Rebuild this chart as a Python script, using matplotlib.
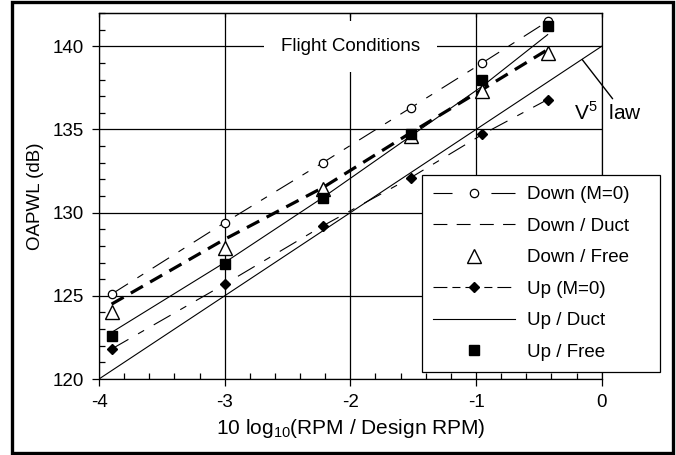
import matplotlib
matplotlib.use("Agg")
import matplotlib.pyplot as plt
from matplotlib.lines import Line2D
from matplotlib.patches import Rectangle
from matplotlib.ticker import MultipleLocator, NullLocator

plt.rcParams['font.family'] = ['Liberation Sans', 'DejaVu Sans']
plt.rcParams['mathtext.fontset'] = 'custom'
plt.rcParams['mathtext.rm'] = 'Liberation Sans'
plt.rcParams['axes.unicode_minus'] = False
plt.rcParams['lines.scale_dashes'] = False

# ---- data ----
rpm_x = [-3.9, -3.0, -2.22, -1.52, -0.95, -0.43]
down_m0 = [125.1, 129.4, 133.0, 136.3, 139.0, 141.5]
down_duct = [124.5, 128.4, 131.5, 134.8, 137.4, 139.8]
down_free = [124.0, 127.9, 131.4, 134.6, 137.3, 139.6]
up_m0 = [121.8, 125.7, 129.2, 132.1, 134.7, 136.8]
up_duct = [122.8, 127.0, 130.9, 134.6, 137.6, 140.7]
up_free = [122.6, 126.9, 130.9, 134.7, 138.0, 141.2]
v5_x = [-4.0, 0.0]
v5_y = [120.0, 140.0]
labels = ["Down (M=0)", "Down / Duct", "Down / Free", "Up (M=0)", "Up / Duct", "Up / Free"]
x_ticks = [-4, -3, -2, -1, 0]

FS = 13.5
fig = plt.figure(figsize=(6.76, 4.55), dpi=100)
ax = fig.add_axes([99/676, 1-379/455, (601.7-99)/676, (379-13)/455])

lw = 0.8
ax.plot(v5_x, v5_y, color='black', lw=lw, zorder=3)
l_up_duct, = ax.plot(rpm_x, up_duct, color='black', lw=lw, zorder=3)
l_down_duct, = ax.plot(rpm_x, down_duct, color='black', lw=2.3,
                       dashes=(10, 6), zorder=3)
l_down_m0, = ax.plot(rpm_x, down_m0, color='black', lw=lw, dashes=(14, 8, 5, 8),
                     marker='o', ms=6, mfc='white', mec='black', mew=0.9, zorder=4)
l_up_m0, = ax.plot(rpm_x, up_m0, color='black', lw=lw, dashes=(14, 8, 5, 8),
                   marker='D', ms=5, mfc='black', mec='black', zorder=4)
l_down_free, = ax.plot(rpm_x, down_free, ls='none', marker='^', ms=9.5,
                       mfc='white', mec='black', mew=1.0, zorder=5)
l_up_free, = ax.plot(rpm_x, up_free, ls='none', marker='s', ms=7,
                     mfc='black', mec='black', zorder=6)

ax.set_xlim(-4, 0)
ax.set_ylim(120, 142)
ax.xaxis.set_major_locator(MultipleLocator(1))
ax.xaxis.set_minor_locator(MultipleLocator(0.2))
ax.yaxis.set_major_locator(MultipleLocator(5))
ax.yaxis.set_minor_locator(MultipleLocator(1))
ax.grid(True, which='major', color='black', lw=0.9, zorder=1)
ax.set_axisbelow(True)
ax.tick_params(which='major', direction='out', length=5, width=0.9, labelsize=FS, pad=6)
ax.tick_params(which='minor', direction='in', length=4, width=0.9)
for s in ax.spines.values():
    s.set_linewidth(0.9)

sec = ax.secondary_xaxis('top')
sec.set_xticks(x_ticks)
sec.xaxis.set_minor_locator(NullLocator())
sec.tick_params(direction='in', length=3, width=0.9, labeltop=False)
sec.spines['top'].set_linewidth(0.9)

ax.set_xlabel("10 log$_{\\mathregular{10}}$(RPM / Design RPM)", fontsize=15, labelpad=4)
ax.set_ylabel("OAPWL (dB)", fontsize=FS, labelpad=6)

ax.text(-2.0, 140.0, "Flight Conditions", fontsize=FS, ha='center', va='center',
        bbox=dict(boxstyle='square,pad=0.9', fc='white', ec='none'), zorder=2)

ax.annotate("V$^{\\mathregular{5}}$  law", xy=(-0.155, 139.2), xytext=(0.05, 136.0),
            textcoords='data', ha='center', va='center', fontsize=15,
            annotation_clip=False,
            arrowprops=dict(arrowstyle='-', color='black', lw=1.0, shrinkA=0, shrinkB=0,
                            relpos=(0.6, 1.0)))

handles = [
    Line2D([], [], color='black', lw=lw, dashes=(13.7, 28, 18, 7), marker='o', ms=6,
           mfc='white', mec='black', mew=0.9),
    Line2D([], [], color='black', lw=lw, dashes=(10, 6.7)),
    Line2D([], [], ls='none', marker='^', ms=9.5, mfc='white', mec='black', mew=1.0),
    Line2D([], [], color='black', lw=lw, dashes=(10, 3.6, 5.8, 3.6), marker='D', ms=5,
           mfc='black', mec='black'),
    Line2D([], [], color='black', lw=lw),
    Line2D([], [], ls='none', marker='s', ms=7, mfc='black', mec='black'),
]
leg = ax.legend(handles, labels, loc='upper left', bbox_to_anchor=(0.6425, 0.0, 0.4734, 0.557),
                mode='expand', fontsize=FS, frameon=True, fancybox=False, framealpha=1,
                edgecolor='black', handlelength=4.4, handletextpad=0.6,
                labelspacing=0.77, borderpad=0.58, borderaxespad=0, numpoints=1)
leg.get_frame().set_linewidth(0.9)
leg.set_zorder(10)

fig.patches.append(Rectangle((12/676, 2/455), 661/676, 451/455, transform=fig.transFigure,
                             fill=False, ec='black', lw=2.4))

fig.savefig("out.png", dpi=100)
